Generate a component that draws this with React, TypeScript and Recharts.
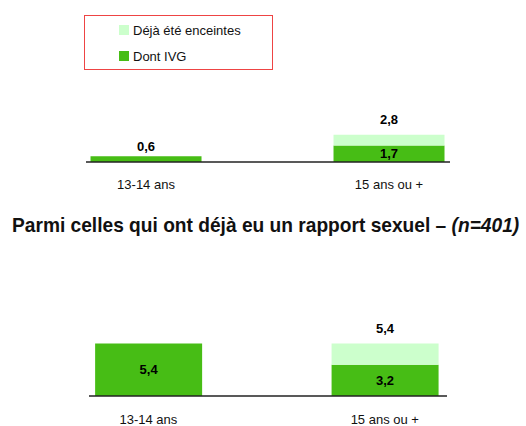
import React from 'react';
import { BarChart, Bar, XAxis, YAxis, Legend, LabelList } from 'recharts';

const CATEGORIES = ['13-14 ans', '15 ans ou +'];

// ensemble des filles
const ALL_ENCEINTES = [0.6, 2.8];
const ALL_IVG = [0.6, 1.7];

// parmi celles qui ont déjà eu un rapport sexuel
const SEX_ENCEINTES = [5.4, 5.4];
const SEX_IVG = [5.4, 3.2];

const SEX_TITLE = 'Parmi celles qui ont déjà eu un rapport sexuel – ';
const SEX_N = '(n=401)';

const SERIES_NAMES = { enceintes: 'Déjà été enceintes', ivg: 'Dont IVG' };

const FONT = '"Liberation Sans", Arial, sans-serif';
const DARK = '#47BD15';
const LIGHT = '#CCFFCC';

const buildRows = (enceintes: number[], ivg: number[]) =>
  CATEGORIES.map((name, i) => ({
    pos: i,
    name,
    ivg: ivg[i],
    reste: Math.round((enceintes[i] - ivg[i]) * 10) / 10,
    total: enceintes[i],
  }));

const fmt = (v: number) => Number(v).toFixed(1).replace('.', ',');

const box = (props: any) => {
  const vb = props.viewBox && props.viewBox.width !== undefined ? props.viewBox : props;
  const y = Number(vb.y);
  const h = Number(vb.height);
  return {
    cx: Number(vb.x) + Number(vb.width) / 2,
    top: Math.min(y, y + h),
    h: Math.abs(h),
  };
};

const ValueText = ({ x, y, text }: { x: number; y: number; text: string }) => (
  <text x={x} y={y + 4.7} textAnchor="middle" fontFamily={FONT} fontSize={13} fontWeight="bold" fill="#000">
    {text}
  </text>
);

// label inside the dark bar, or above it when the bar is too thin
const IvgLabel = (props: any) => {
  const { cx, top, h } = box(props);
  if (props.value >= 1) return <ValueText x={cx} y={top + h / 2} text={fmt(props.value)} />;
  return <ValueText x={cx} y={top - 9.5} text={fmt(props.value)} />;
};

// total shown above the light part
const TotalLabel = (props: any) => {
  const { cx, top, h } = box(props);
  if (!h) return null;
  return <ValueText x={cx} y={top - 15.5} text={fmt(props.value)} />;
};

const LegendBox = ({ payload }: any) => {
  const items = [...(payload || [])].reverse();
  return (
    <div
      style={{
        boxSizing: 'border-box',
        width: 189,
        height: 55,
        border: '1px solid #EE4444',
        fontFamily: FONT,
        fontSize: 13,
        color: '#111',
        paddingTop: 6,
      }}
    >
      {items.map((it: any) => (
        <div key={it.value} style={{ display: 'flex', alignItems: 'center', height: 16, marginBottom: 10, paddingLeft: 34 }}>
          <span style={{ display: 'inline-block', width: 10, height: 10, background: it.color, marginRight: 4 }} />
          {it.value}
        </div>
      ))}
    </div>
  );
};

interface PanelProps {
  rows: ReturnType<typeof buildRows>;
  width: number;
  height: number;
  margin: { top: number; right: number; bottom: number; left: number };
  xDomain: [number, number];
  yMax: number;
  barSize: number;
  tickMargin: number;
  legend?: boolean;
}

function Panel({ rows, width, height, margin, xDomain, yMax, barSize, tickMargin, legend }: PanelProps) {
  return (
    <BarChart width={width} height={height} data={rows} margin={margin}>
      <XAxis
        type="number"
        dataKey="pos"
        domain={xDomain}
        allowDataOverflow
        ticks={[0, 1]}
        interval={0}
        tickFormatter={(v: number) => CATEGORIES[v] ?? ''}
        axisLine={{ stroke: '#222', strokeWidth: 1.5 }}
        tickLine={false}
        tickSize={0}
        tickMargin={tickMargin}
        tick={{ fill: '#111', fontSize: 13, fontFamily: FONT }}
      />
      <YAxis hide domain={[0, yMax]} allowDataOverflow />
      {legend && (
        <Legend
          layout="vertical"
          align="center"
          verticalAlign="middle"
          wrapperStyle={{ top: 15, left: 84, width: 189, height: 55 }}
          content={<LegendBox />}
        />
      )}
      <Bar dataKey="ivg" name={SERIES_NAMES.ivg} stackId="a" fill={DARK} barSize={barSize} isAnimationActive={false}>
        <LabelList dataKey="ivg" content={<IvgLabel />} />
      </Bar>
      <Bar dataKey="reste" name={SERIES_NAMES.enceintes} stackId="a" fill={LIGHT} barSize={barSize} isAnimationActive={false}>
        <LabelList dataKey="total" content={<TotalLabel />} />
      </Bar>
    </BarChart>
  );
}

export default function App() {
  const allRows = buildRows(ALL_ENCEINTES, ALL_IVG);
  const sexRows = buildRows(SEX_ENCEINTES, SEX_IVG);

  return (
    <div style={{ position: 'absolute', left: 0, top: 0, width: 526, height: 426, background: '#fff', overflow: 'hidden' }}>
      <div style={{ position: 'absolute', left: 0, top: 0 }}>
        <Panel
          rows={allRows}
          width={526}
          height={200}
          margin={{ top: 0, right: 76, bottom: 8, left: 86 }}
          xDomain={[-0.247, 1.251]}
          yMax={16.7}
          barSize={111}
          tickMargin={18}
          legend
        />
      </div>
      <div
        style={{
          position: 'absolute',
          left: 12,
          top: 212.5,
          whiteSpace: 'nowrap',
          fontFamily: FONT,
          fontSize: 21,
          lineHeight: 'normal',
          fontWeight: 'bold',
          color: '#111',
          transform: 'scaleX(0.912)',
          transformOrigin: 'left top',
        }}
      >
        {SEX_TITLE}
        <i>{SEX_N}</i>
      </div>
      <div style={{ position: 'absolute', left: 0, top: 200 }}>
        <Panel
          rows={sexRows}
          width={526}
          height={226}
          margin={{ top: 0, right: 79, bottom: 0, left: 89 }}
          xDomain={[-0.251, 1.263]}
          yMax={20.15}
          barSize={107}
          tickMargin={19}
        />
      </div>
    </div>
  );
}
